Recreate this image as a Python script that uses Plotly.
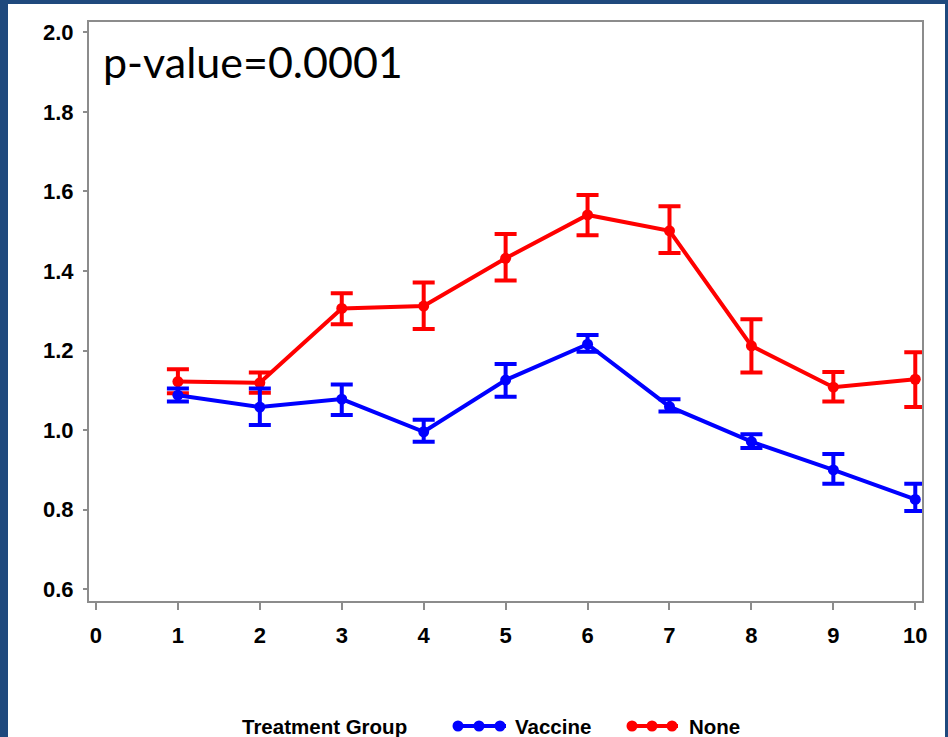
import plotly.graph_objects as go

# ---------------- data ----------------
timepoints = [1, 2, 3, 4, 5, 6, 7, 8, 9, 10]

vaccine_mean = [1.088, 1.058, 1.078, 0.996, 1.126, 1.216, 1.059, 0.971, 0.900, 0.826]
vaccine_upper = [1.105, 1.105, 1.115, 1.026, 1.166, 1.239, 1.078, 0.990, 0.940, 0.865]
vaccine_lower = [1.072, 1.013, 1.038, 0.971, 1.084, 1.197, 1.047, 0.955, 0.865, 0.797]

none_mean = [1.122, 1.119, 1.306, 1.312, 1.432, 1.541, 1.501, 1.212, 1.108, 1.128]
none_upper = [1.153, 1.145, 1.344, 1.371, 1.493, 1.591, 1.563, 1.279, 1.146, 1.196]
none_lower = [1.093, 1.094, 1.266, 1.254, 1.376, 1.490, 1.445, 1.145, 1.072, 1.058]

x_ticks = [0, 1, 2, 3, 4, 5, 6, 7, 8, 9, 10]
y_ticks = [0.6, 0.8, 1.0, 1.2, 1.4, 1.6, 1.8, 2.0]

legend_title = "Treatment Group"
series_names = ["Vaccine", "None"]
annotation_text = "p-value=0.0001"

# ---------------- layout constants ----------------
W, H = 948, 737
L, R, T, B = 89, 26, 22, 136
PW = W - L - R
PH = H - T - B
BLUE = "#0000FF"
RED = "#FF0000"
FRAME = "#1F497D"
AXIS = "#8C8C8C"


def px(xp):
    return (xp - L) / PW


def py(yp):
    return (H - B - yp) / PH


def errs(mean, upper, lower):
    plus = [round(u - m, 4) for u, m in zip(upper, mean)]
    minus = [round(m - l, 4) for m, l in zip(mean, lower)]
    return plus, minus


fig = go.Figure()

for name, mean, up, lo, col in [
    (series_names[1], none_mean, none_upper, none_lower, RED),
    (series_names[0], vaccine_mean, vaccine_upper, vaccine_lower, BLUE),
]:
    plus, minus = errs(mean, up, lo)
    fig.add_trace(go.Scatter(
        x=timepoints, y=mean, name=name, mode="lines+markers",
        line=dict(color=col, width=4),
        marker=dict(color=col, size=11),
        error_y=dict(type="data", symmetric=False, array=plus, arrayminus=minus,
                     color=col, thickness=4, width=11),
        cliponaxis=False, showlegend=False,
    ))

shapes = [
    # white slide panel inside dark blue frame
    dict(type="rect", xref="paper", yref="paper", layer="below",
         x0=px(8), x1=px(945), y0=py(760), y1=py(4),
         fillcolor="white", line=dict(width=0)),
]

# custom legend (line + three dots)
legend_y = py(726)
legend_items = [
    (series_names[0], BLUE, 453, 506, [458, 479, 500], 515),
    (series_names[1], RED, 627, 678, [632, 652, 672], 689),
]
annotations = [
    dict(text=annotation_text, xref="paper", yref="paper", x=px(101), y=py(61),
         xanchor="left", yanchor="middle", showarrow=False,
         font=dict(family="Lato", size=43, color="black")),
    dict(text=legend_title, xref="paper", yref="paper", x=px(240), y=py(726),
         xanchor="left", yanchor="middle", showarrow=False,
         font=dict(family="Liberation Sans", size=20.5, color="black", weight="bold")),
]
for name, col, x0, x1, dots, tx in legend_items:
    shapes.append(dict(type="line", xref="paper", yref="paper",
                       x0=px(x0), x1=px(x1), y0=legend_y, y1=legend_y,
                       line=dict(color=col, width=4)))
    for d in dots:
        shapes.append(dict(type="circle", xref="paper", yref="paper",
                           xsizemode="pixel", ysizemode="pixel",
                           xanchor=px(d), yanchor=legend_y,
                           x0=-5.5, x1=5.5, y0=-5.5, y1=5.5,
                           fillcolor=col, line=dict(width=0)))
    annotations.append(dict(text=name, xref="paper", yref="paper", x=px(tx - 2), y=py(726),
                            xanchor="left", yanchor="middle", showarrow=False,
                            font=dict(family="Liberation Sans", size=20.5, color="black",
                                      weight="bold")))

fig.update_layout(
    width=W, height=H,
    margin=dict(l=L, r=R, t=T, b=B, autoexpand=False),
    paper_bgcolor=FRAME, plot_bgcolor="white",
    showlegend=False,
    shapes=shapes, annotations=annotations,
    xaxis=dict(range=[-0.085, 10.082], tickmode="array", tickvals=x_ticks,
               ticktext=[str(v) for v in x_ticks],
               showgrid=False, zeroline=False, showline=True, mirror=True,
               linecolor=AXIS, linewidth=2, ticks="outside", ticklen=7,
               tickwidth=1.5, tickcolor=AXIS, ticklabelstandoff=7,
               tickfont=dict(family="Liberation Sans", size=22, color="black",
                             weight="bold")),
    yaxis=dict(range=[0.5706, 2.0259], tickmode="array", tickvals=y_ticks,
               ticktext=[f"{v:.1f}" for v in y_ticks],
               showgrid=False, zeroline=False, showline=True, mirror=True,
               linecolor=AXIS, linewidth=2, ticks="outside", ticklen=4,
               tickwidth=1.5, tickcolor=AXIS, ticklabelstandoff=5,
               tickfont=dict(family="Liberation Sans", size=22, color="black",
                             weight="bold")),
)

fig.write_html("out.html")
